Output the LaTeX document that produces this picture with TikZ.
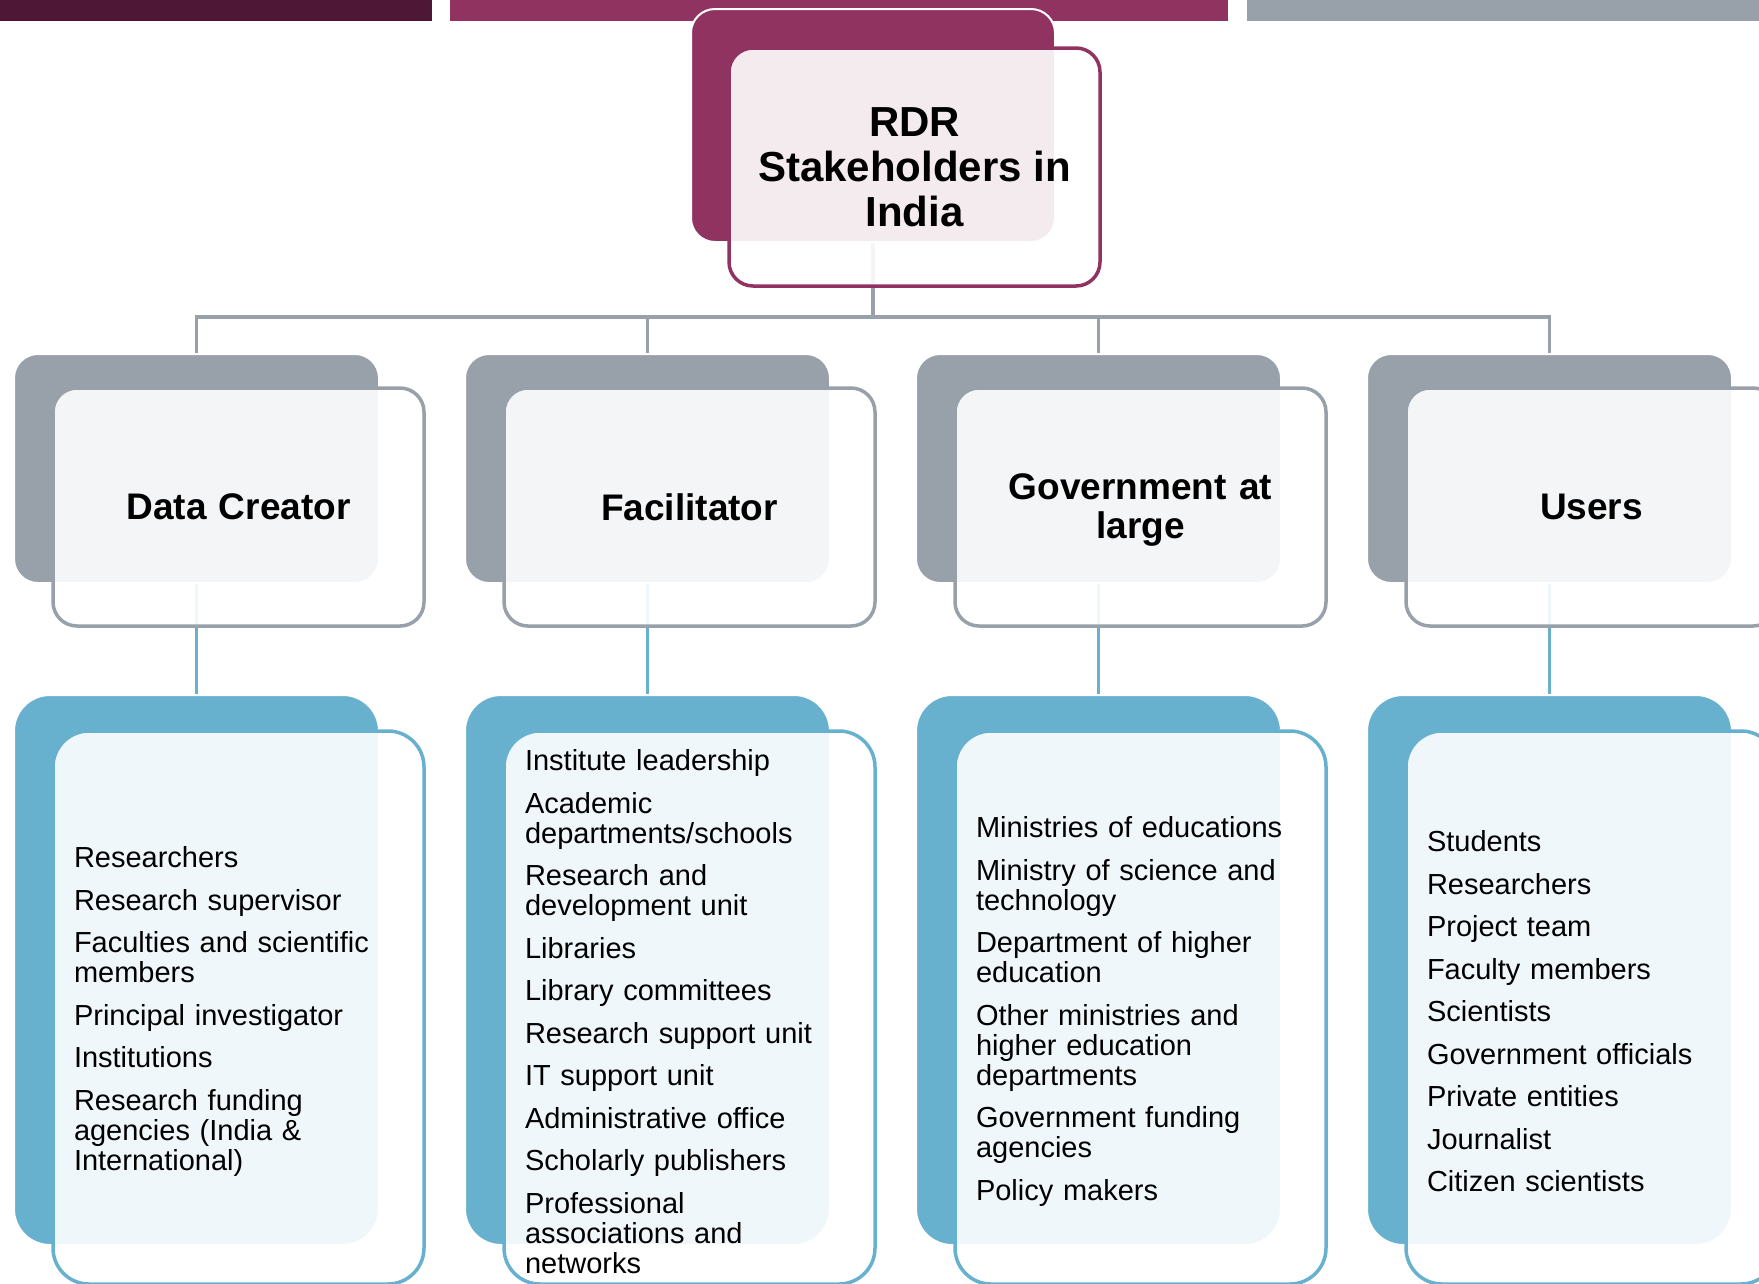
\documentclass[tikz,border=0pt]{standalone}
\usepackage{fontspec}
\setmainfont{Liberation Sans}
\usepackage{tikz}

\definecolor{plumdark}{HTML}{4E1735}
\definecolor{plum}{HTML}{913361}
\definecolor{slate}{HTML}{98A0AA}
\definecolor{sky}{HTML}{67B1CF}

\tikzset{
    backbox/.style={fill=#1, draw=white, line width=2pt, rounded corners=24pt},
    frontbox/.style={draw=#1, fill=white, fill opacity=0.9, text opacity=1,
        line width=3.5pt, rounded corners=24pt},
    catsize/.style={minimum width=365pt, minimum height=229pt},
    catfront/.style={frontbox=slate, minimum height=238pt,
        text width=329pt, inner xsep=21pt, align=center,
        font=\fontsize{37}{39}\selectfont\bfseries},
    listsize/.style={minimum width=365pt, minimum height=550pt, rounded corners=36pt},
    listfront/.style={frontbox=sky, rounded corners=36pt, minimum height=553pt,
        text width=329pt, inner xsep=21pt, align=left,
        font=\fontsize{29}{30}\selectfont,
        execute at begin node=\rule{0pt}{29pt}},
    link/.style={draw=#1, line width=3.5pt}
}

\begin{document}
\begin{tikzpicture}[x=1pt, y=-1pt]
        \useasboundingbox (0,0) rectangle (1759,1283);

        % Header strips
        \fill[plumdark] (0,0) rectangle (432,20.5);
        \fill[plum] (450,0) rectangle (1228,20.5);
        \fill[slate] (1247,0) rectangle (1759,20.5);

        % Points
        \coordinate (bus) at (873,317);

        % Back plates
        \node[backbox=plum, minimum width=364pt, minimum height=233pt] (root-back) at (873,125.5) {};
        \node[backbox=slate, catsize] (creator-back) at (196.5,468.5) {};
        \node[backbox=slate, catsize] (facil-back) at (647.5,468.5) {};
        \node[backbox=slate, catsize] (gov-back) at (1098.5,468.5) {};
        \node[backbox=slate, catsize] (users-back) at (1549.5,468.5) {};
        \node[backbox=sky, listsize] (creator-listback) at (196.5,970) {};
        \node[backbox=sky, listsize] (facil-listback) at (647.5,970) {};
        \node[backbox=sky, listsize] (gov-listback) at (1098.5,970) {};
        \node[backbox=sky, listsize] (users-listback) at (1549.5,970) {};

        % Links
        \draw[link=slate] (root-back.south) -- (bus);
        \foreach \n in {creator, facil, gov, users} {
            \draw[link=slate] (bus) -| (\n-back.north);
            \draw[link=sky] (\n-back.south) -- (\n-listback.north);
        }

        % Root
        \node[frontbox=plum, minimum width=371pt, minimum height=238pt, align=center,
              font=\fontsize{42}{45}\selectfont\bfseries] (root) at (914.5,167)
              {RDR\\Stakeholders in\\India};

        % Stakeholder groups
        \node[catfront] (creator) at (238.5,507) {Data Creator};
        \node[catfront] (facil) at (689.5,507) {Facilitator};
        \node[catfront, execute at begin node=\rule{0pt}{32pt}] (gov) at (1140.5,507) {Government at\\large};
        \node[catfront] (users) at (1591.5,507) {Users};

        % Members of each group
        \node[listfront] (creator-list) at (238.5,1007.5) {
            Researchers\\[12.5pt]
            Research supervisor\\[12.5pt]
            Faculties and scientific\\members\\[12.5pt]
            Principal investigator\\[12.5pt]
            Institutions\\[12.5pt]
            Research funding\\agencies (India \&\\International)};
        \node[listfront] (facil-list) at (689.5,1007.5) {
            Institute leadership\\[12.5pt]
            Academic\\departments/schools\\[12.5pt]
            Research and\\development unit\\[12.5pt]
            Libraries\\[12.5pt]
            Library committees\\[12.5pt]
            Research support unit\\[12.5pt]
            IT support unit\\[12.5pt]
            Administrative office\\[12.5pt]
            Scholarly publishers\\[12.5pt]
            Professional\\associations and\\networks};
        \node[listfront] (gov-list) at (1140.5,1007.5) {
            Ministries of educations\\[12.5pt]
            Ministry of science and\\technology\\[12.5pt]
            Department of higher\\education\\[12.5pt]
            Other ministries and\\higher education\\departments\\[12.5pt]
            Government funding\\agencies\\[12.5pt]
            Policy makers};
        \node[listfront] (users-list) at (1591.5,1007.5) {
            Students\\[12.5pt]
            Researchers\\[12.5pt]
            Project team\\[12.5pt]
            Faculty members\\[12.5pt]
            Scientists\\[12.5pt]
            Government officials\\[12.5pt]
            Private entities\\[12.5pt]
            Journalist\\[12.5pt]
            Citizen scientists};

    \end{tikzpicture}
\end{document}
